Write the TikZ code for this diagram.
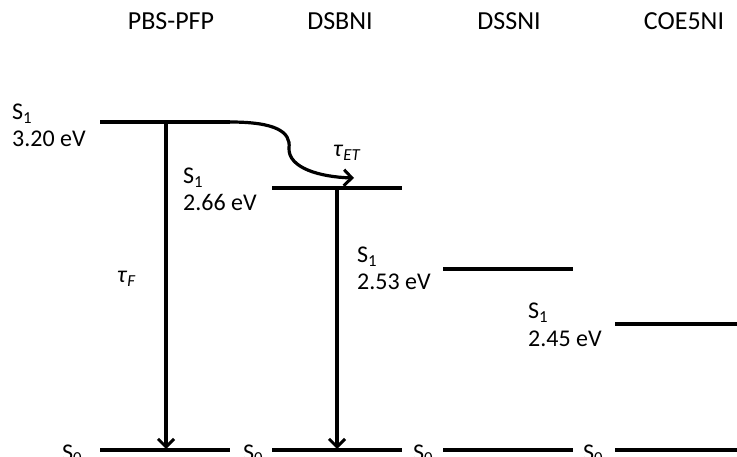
\documentclass[tikz,border=0pt]{standalone}
\usepackage{fontspec}
\setmainfont{Carlito}
\usetikzlibrary{arrows.meta}
\begin{document}
\begin{tikzpicture}[x=1pt,y=-1pt,
  level/.style={line width=3.2pt},
  trans/.style={line width=3.2pt,-{Straight Barb[length=8pt,width=16pt,line width=3pt]}},
  lbl/.style={font=\fontsize{24}{27}\selectfont,inner sep=0pt,anchor=base west},
  ttl/.style={font=\fontsize{26}{30}\selectfont,inner sep=0pt,anchor=base}]
\useasboundingbox (0,0) rectangle (737,457);
\clip (0,0) rectangle (737,457);
% molecule names
\node[ttl] (pbs) at (171,30) {PBS-PFP};
\node[ttl] (dsb) at (340,30) {DSBNI};
\node[ttl] (dss) at (509,30) {DSSNI};
\node[ttl] (coe) at (684,30) {COE5NI};
% S1 levels
\coordinate (pbsA) at (100,122); \coordinate (pbsB) at (230,122);
\coordinate (dsbA) at (272,188); \coordinate (dsbB) at (402,188);
\coordinate (dssA) at (443,269); \coordinate (dssB) at (573,269);
\coordinate (coeA) at (615,324); \coordinate (coeB) at (740,324);
\draw[level] (pbsA) -- (pbsB);
\draw[level] (dsbA) -- (dsbB);
\draw[level] (dssA) -- (dssB);
\draw[level] (coeA) -- (coeB);
% S0 levels
\coordinate (pbsG) at (100,450); \coordinate (pbsH) at (230,450);
\coordinate (dsbG) at (272,450); \coordinate (dsbH) at (402,450);
\coordinate (dssG) at (443,450); \coordinate (dssH) at (573,450);
\coordinate (coeG) at (615,450); \coordinate (coeH) at (740,450);
\draw[level] (pbsG) -- (pbsH);
\draw[level] (dsbG) -- (dsbH);
\draw[level] (dssG) -- (dssH);
\draw[level] (coeG) -- (coeH);
% labels
\node[lbl] (pbsS) at (12,120) {S\textsubscript{1}};
\node[lbl] (pbsE) at (12,147) {3.20 eV};
\node[lbl] (dsbS) at (183,184) {S\textsubscript{1}};
\node[lbl] (dsbE) at (183,211) {2.66 eV};
\node[lbl] (dssS) at (357,263) {S\textsubscript{1}};
\node[lbl] (dssE) at (357,290) {2.53 eV};
\node[lbl] (coeS) at (528,319) {S\textsubscript{1}};
\node[lbl] (coeE) at (528,347) {2.45 eV};
\node[lbl] (pbsZ) at (62,460) {S\textsubscript{0}};
\node[lbl] (dsbZ) at (243,460) {S\textsubscript{0}};
\node[lbl] (dssZ) at (413,460) {S\textsubscript{0}};
\node[lbl] (coeZ) at (583,460) {S\textsubscript{0}};
% transitions
\coordinate (pbsF) at (166,122); \coordinate (pbsT) at (166,449);
\coordinate (dsbF) at (337,188); \coordinate (dsbT) at (337,449);
\coordinate (etT) at (354,178);
\draw[trans] (pbsF) -- (pbsT);
\draw[trans] (dsbF) -- (dsbT);
\draw[trans] (pbsB) .. controls (276,122) and (291,132) .. (289,148)
  .. controls (288,168) and (320,177) .. (etT);
\node[lbl] (tauF) at (117,283) {\textit{τ}\textsubscript{\textit{F}}};
\node[lbl] (tauET) at (333,157) {\textit{τ}\textsubscript{\textit{ET}}};
\end{tikzpicture}
\end{document}
